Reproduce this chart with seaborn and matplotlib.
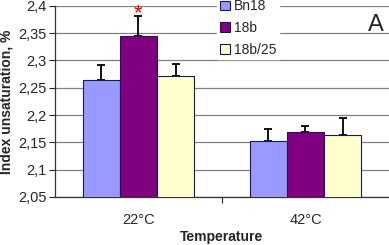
import pandas as pd
import seaborn as sns
import matplotlib.pyplot as plt
from matplotlib.ticker import FuncFormatter

# values
temperatures = ["22°C", "42°C"]
lines = ["Bn18", "18b", "18b/25"]
bn18 = [2.265, 2.153]
b18 = [2.345, 2.169]
b18_25 = [2.272, 2.163]
err_bn18 = [0.027, 0.021]
err_b18 = [0.037, 0.011]
err_b18_25 = [0.021, 0.032]
colors = ["#9999FF", "#800080", "#FFFFCC"]

df = pd.DataFrame({
    "Temperature": temperatures * 3,
    "Line": [l for l in lines for _ in temperatures],
    "Index": bn18 + b18 + b18_25,
    "Err": err_bn18 + err_b18 + err_b18_25,
})

sns.set_style("white")
plt.rcParams["font.family"] = ["Liberation Sans", "DejaVu Sans"]

fig = plt.figure(figsize=(3.89, 2.45), dpi=100)
ax = fig.add_axes([0.141, 0.196, 0.859, 0.78])

sns.barplot(data=df, x="Temperature", y="Index", hue="Line", order=temperatures,
            hue_order=lines, palette=colors, width=0.667, edgecolor="#1a1a50",
            linewidth=0.8, errorbar=None, saturation=1, ax=ax, zorder=3)

# one-sided error bars, placed on top of each bar
for i, line in enumerate(lines):
    sub = df[df["Line"] == line].set_index("Temperature").loc[temperatures]
    bars = ax.containers[i]
    xs = [b.get_x() + b.get_width() / 2 for b in bars]
    ax.errorbar(xs, sub["Index"], yerr=[[0] * len(xs), sub["Err"]], fmt="none",
                ecolor="black", elinewidth=1.3, capsize=3, capthick=1.3, zorder=2)

# significance star over 18b at 22°C
star_bar = ax.containers[1][0]
ax.text(star_bar.get_x() + star_bar.get_width() / 2, 2.386, "*",
        color="red", ha="center", va="center", fontsize=16, clip_on=False)

ax.set_ylim(2.05, 2.4)
ax.set_xlim(-0.5, 1.5)
ax.set_yticks([2.05, 2.1, 2.15, 2.2, 2.25, 2.3, 2.35, 2.4])
ax.yaxis.set_major_formatter(FuncFormatter(lambda v, p: f"{v:g}".replace(".", ",")))
ax.yaxis.grid(True, color="#808080", linewidth=0.9, zorder=0)
ax.set_axisbelow(True)
ax.tick_params(axis="y", left=True, length=4, width=0.8, labelsize=10.5, pad=2)
ax.tick_params(axis="x", bottom=False, labelsize=10.5, pad=8)
ax.set_xticks([0.5], minor=True)
ax.tick_params(axis="x", which="minor", bottom=True, length=4, width=0.8)

for s in ["top", "right"]:
    ax.spines[s].set_visible(False)
for s in ["left", "bottom"]:
    ax.spines[s].set_color("#333333")
    ax.spines[s].set_linewidth(0.9)

ax.set_ylabel("Index unsaturation, %", fontsize=10, fontweight="bold", labelpad=3)
ax.set_xlabel("Temperature", fontsize=10, fontweight="bold", labelpad=2)

leg = ax.legend(loc="upper left", bbox_to_anchor=(0.465, 1.085), frameon=True,
                fontsize=10, handlelength=0.7, handleheight=0.7, handletextpad=0.3,
                labelspacing=0.55, borderpad=0.2, fancybox=False)
leg.get_frame().set_edgecolor("white")
leg.get_frame().set_facecolor("white")
leg.get_frame().set_alpha(1)

ax.text(0.985, 0.9, "A", transform=ax.transAxes, ha="right", va="center", fontsize=17)

fig.savefig("out.png", dpi=100)
